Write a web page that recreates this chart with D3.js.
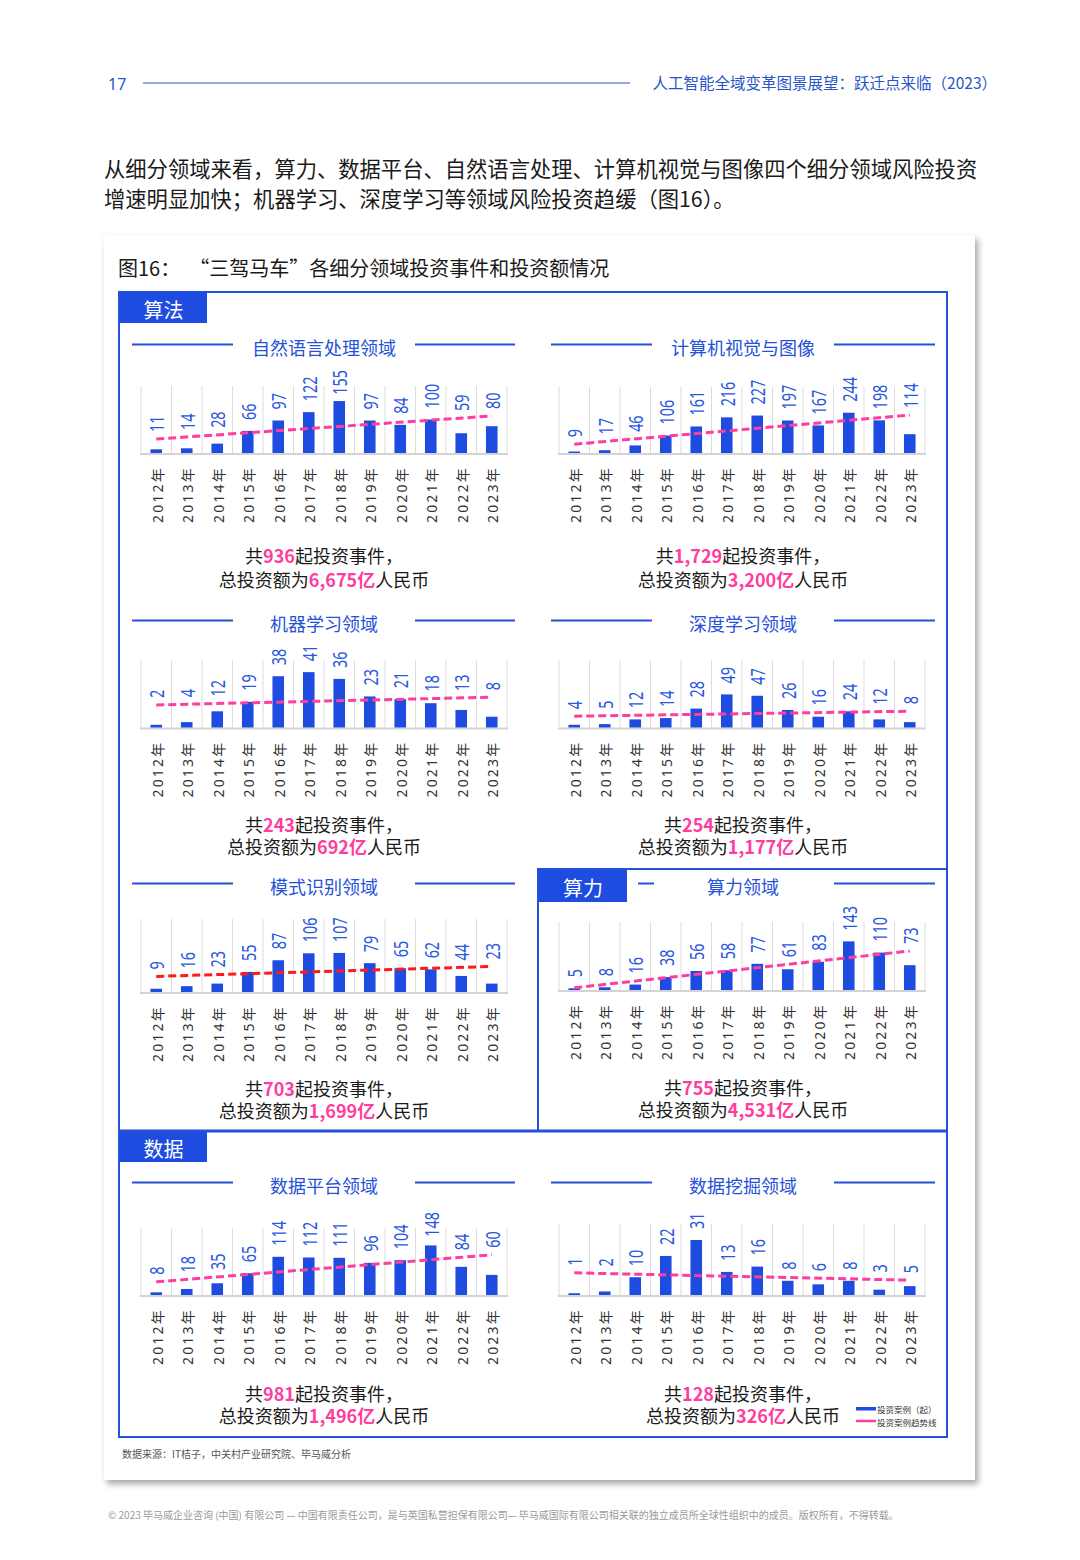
<!DOCTYPE html>
<html><head><meta charset="utf-8">
<script src="https://cdn.jsdelivr.net/npm/d3@7/dist/d3.min.js"></script>
<style>body{margin:0;background:#fff}</style>
</head><body>
<svg id="c" width="1080" height="1560"></svg>
<script>
// ---------- data ----------
const years = ["2012年","2013年","2014年","2015年","2016年","2017年","2018年","2019年","2020年","2021年","2022年","2023年"];
const nlpValues      = [11,14,28,66,97,122,155,97,84,100,59,80];
const cvValues       = [9,17,46,106,161,216,227,197,167,244,198,114];
const mlValues       = [2,4,12,19,38,41,36,23,21,18,13,8];
const dlValues       = [4,5,12,14,28,49,47,26,16,24,12,8];
const prValues       = [9,16,23,55,87,106,107,79,65,62,44,23];
const computeValues  = [5,8,16,38,56,58,77,61,83,143,110,73];
const platformValues = [8,18,35,65,114,112,111,96,104,148,84,60];
const miningValues   = [1,2,10,22,31,13,16,8,6,8,3,5];
const panelTitles = ["自然语言处理领域","计算机视觉与图像","机器学习领域","深度学习领域","模式识别领域","算力领域","数据平台领域","数据挖掘领域"];
const eventTotals = ["936","1,729","243","254","703","755","981","128"];
const amountTotals = ["6,675","3,200","692","1,177","1,699","4,531","1,496","326"];
const sectionLabels = ["算法","算力","数据"];
const legendLabels = ["投资案例（起）","投资案例趋势线"];

// ---------- layout ----------
const BLUE="#2451d8", LBL="#2a57de", BAR="#1f4ce0", PINK="#ff3d9e", RED="#ff1a1a", TXT="#1a1a1a";
const CJK="'Noto Sans CJK SC','Noto Sans',sans-serif";
const L = {x0:141,x1:507,cx:324,l1:[132,233],l2:[415,515]};
const R = {x0:559,x1:925,cx:743,l1:[551,652],l2:[834,935]};
const panels = [
  {v:nlpValues,     side:L, titleY:347, top:386, base:453, ymax:200, t1:555, t2:579, color:PINK},
  {v:cvValues,      side:R, titleY:347, top:387, base:453, ymax:400, t1:555, t2:579, color:PINK},
  {v:mlValues,      side:L, titleY:623, top:660, base:727.5, ymax:50, t1:824, t2:846, color:PINK},
  {v:dlValues,      side:R, titleY:623, top:660, base:727.5, ymax:100, t1:824, t2:846, color:PINK},
  {v:prValues,      side:L, titleY:886, top:919, base:992, ymax:200, t1:1088, t2:1110, color:RED},
  {v:computeValues, side:R, titleY:886, top:922, base:990, ymax:200, t1:1087, t2:1109, color:PINK, shortLeft:[638,654]},
  {v:platformValues,side:L, titleY:1185, top:1228, base:1295, ymax:200, t1:1393, t2:1415, color:PINK},
  {v:miningValues,  side:R, titleY:1185, top:1224, base:1295, ymax:40, t1:1393, t2:1415, color:PINK}
];

const svg = d3.select("#c");

// header
svg.append("text").attr("x",108).attr("y",84).attr("dominant-baseline","central")
  .attr("font-family","'Noto Sans',sans-serif").attr("font-size",16).attr("fill","#2a55c9").text("17");
svg.append("line").attr("x1",143).attr("x2",630).attr("y1",83).attr("y2",83).attr("stroke","#2a55c9").attr("stroke-width",1);
svg.append("text").attr("x",997).attr("y",82).attr("text-anchor","end").attr("dominant-baseline","central")
  .attr("font-family",CJK).attr("font-size",15.5).attr("fill","#2a55c9").text("人工智能全域变革图景展望：跃迁点来临（2023）");

// paragraph
const para = ["从细分领域来看，算力、数据平台、自然语言处理、计算机视觉与图像四个细分领域风险投资","增速明显加快；机器学习、深度学习等领域风险投资趋缓（图16）。"];
svg.selectAll(".para").data(para).join("text").attr("x",104).attr("y",(d,i)=>167+i*30)
  .attr("dominant-baseline","central").attr("font-family",CJK).attr("font-size",21.3).attr("fill",TXT).text(d=>d);

// card with shadow
const defs = svg.append("defs");
const f = defs.append("filter").attr("id","sh").attr("x","-5%").attr("y","-5%").attr("width","110%").attr("height","110%");
f.append("feDropShadow").attr("dx",3).attr("dy",4).attr("stdDeviation",3).attr("flood-color","#000").attr("flood-opacity",0.35);
svg.append("rect").attr("x",104).attr("y",235).attr("width",871).attr("height",1245).attr("fill","#fff").attr("filter","url(#sh)");

svg.append("text").attr("x",118).attr("y",267).attr("dominant-baseline","central")
  .attr("font-family",CJK).attr("font-size",20).attr("fill",TXT).attr("xml:space","preserve")
  .text("图16：  “三驾马车”各细分领域投资事件和投资额情况");

// boxes
const box = svg.append("g").attr("stroke",BLUE).attr("fill","none");
box.append("line").attr("x1",119).attr("x2",948).attr("y1",292).attr("y2",292).attr("stroke-width",2);
box.append("line").attr("x1",119).attr("x2",119).attr("y1",291).attr("y2",1438).attr("stroke-width",2);
box.append("line").attr("x1",947).attr("x2",947).attr("y1",291).attr("y2",1438).attr("stroke-width",2);
box.append("line").attr("x1",538).attr("x2",948).attr("y1",869).attr("y2",869).attr("stroke-width",2);
box.append("line").attr("x1",538).attr("x2",538).attr("y1",868).attr("y2",1131).attr("stroke-width",2);
box.append("line").attr("x1",119).attr("x2",948).attr("y1",1131).attr("y2",1131).attr("stroke-width",3);
box.append("line").attr("x1",118).attr("x2",948).attr("y1",1437).attr("y2",1437).attr("stroke-width",2);

const tabs = [{x:120,y:293,w:87,h:30},{x:539,y:870,w:88,h:32},{x:120,y:1132,w:87,h:30}];
tabs.forEach((t,i)=>{
  svg.append("rect").attr("x",t.x).attr("y",t.y).attr("width",t.w).attr("height",t.h).attr("fill",BAR);
  svg.append("text").attr("x",t.x+t.w/2).attr("y",t.y+t.h/2+1).attr("text-anchor","middle").attr("dominant-baseline","central")
    .attr("font-family",CJK).attr("font-size",20).attr("fill","#fff").text(sectionLabels[i]);
});

// panels
panels.forEach((p,pi)=>{
  const s = p.side;
  const g = svg.append("g");
  g.append("text").attr("x",s.cx).attr("y",p.titleY).attr("text-anchor","middle").attr("dominant-baseline","central")
    .attr("font-family",CJK).attr("font-size",18).attr("fill",BLUE).text(panelTitles[pi]);
  const l1 = p.shortLeft || s.l1;
  [l1,s.l2].forEach(l=>g.append("line").attr("x1",l[0]).attr("x2",l[1]).attr("y1",p.titleY-2.5).attr("y2",p.titleY-2.5)
    .attr("stroke",BLUE).attr("stroke-width",2));

  const x = d3.scaleBand().domain(years).range([s.x0,s.x1]).paddingInner(0.62).paddingOuter(0.31);
  const y = d3.scaleLinear().domain([0,p.ymax]).range([p.base,p.top]);
  const step = x.step();
  const bounds = d3.range(years.length+1).map(i=>s.x0 + i*step);

  g.selectAll(".grid").data(bounds).join("line").attr("x1",d=>d).attr("x2",d=>d)
    .attr("y1",p.top).attr("y2",p.base).attr("stroke","#dcdcdc").attr("stroke-width",1);
  g.append("line").attr("x1",s.x0-1).attr("x2",s.x1+1).attr("y1",p.base+1).attr("y2",p.base+1)
    .attr("stroke","#d3d3d3").attr("stroke-width",2);

  const data = years.map((yr,i)=>({yr, v:p.v[i], i}));
  g.selectAll(".bar").data(data).join("rect")
    .attr("x",d=>x(d.yr)).attr("width",x.bandwidth())
    .attr("y",d=>y(d.v)).attr("height",d=>p.base-y(d.v)).attr("fill",BAR);

  // linear trend (least squares of the series)
  const n = p.v.length, mx = (n-1)/2, my = d3.mean(p.v);
  const slope = d3.sum(p.v,(v,i)=>(i-mx)*(v-my)) / d3.sum(p.v,(v,i)=>(i-mx)*(i-mx));
  const inter = my - slope*mx;
  const trend = i => inter + slope*i;
  const cx = d => x(d.yr)+x.bandwidth()/2;
  g.append("line").attr("x1",cx(data[0])).attr("x2",cx(data[n-1]))
    .attr("y1",y(trend(0))).attr("y2",y(trend(n-1)))
    .attr("stroke",p.color).attr("stroke-width",3).attr("stroke-dasharray","8,4");

  // value labels (tall, narrow glyphs)
  const SX = 0.72;
  g.selectAll(".val").data(data).join("text")
    .attr("font-family","'Noto Sans',sans-serif").attr("font-size",20).attr("fill",LBL)
    .attr("dominant-baseline","central")
    .text(d=>d.v)
    .each(function(d){
      const len = this.getComputedTextLength()*SX;
      let b = Math.min(y(d.v)-11, y(trend(d.i))-7);
      if (b-len < p.top-16) b = p.top-16+len;
      d3.select(this).attr("transform",`translate(${cx(d)},${b}) rotate(-90) scale(${SX},1)`);
    });

  // x labels
  g.selectAll(".xl").data(data).join("text")
    .attr("transform",d=>`translate(${cx(d)+1},${p.base+13}) rotate(-90)`)
    .attr("text-anchor","end").attr("dominant-baseline","central")
    .attr("font-family","'Noto Sans','Noto Sans CJK SC',sans-serif").attr("font-size",14).attr("letter-spacing",2.2)
    .attr("fill","#333").text(d=>d.yr);

  // totals
  const t1 = g.append("text").attr("x",s.cx).attr("y",p.t1).attr("text-anchor","middle").attr("dominant-baseline","central")
    .attr("font-family",CJK).attr("font-size",18).attr("fill",TXT);
  t1.append("tspan").text("共");
  t1.append("tspan").attr("fill",PINK).attr("font-weight","bold").text(eventTotals[pi]);
  t1.append("tspan").text("起投资事件，");
  const t2 = g.append("text").attr("x",s.cx).attr("y",p.t2).attr("text-anchor","middle").attr("dominant-baseline","central")
    .attr("font-family",CJK).attr("font-size",18).attr("fill",TXT);
  t2.append("tspan").text("总投资额为");
  t2.append("tspan").attr("fill",PINK).attr("font-weight","bold").text(amountTotals[pi]+"亿");
  t2.append("tspan").text("人民币");
});

// legend
const lg = svg.append("g");
lg.append("rect").attr("x",856).attr("y",1407).attr("width",20).attr("height",3.5).attr("fill",BAR);
lg.append("line").attr("x1",856).attr("x2",876).attr("y1",1421).attr("y2",1421).attr("stroke",PINK).attr("stroke-width",2.5);
lg.selectAll(".lt").data(legendLabels).join("text").attr("x",877).attr("y",(d,i)=>1409+i*13)
  .attr("dominant-baseline","central").attr("font-family",CJK).attr("font-size",8.5).attr("fill","#333").text(d=>d);

// source & footer
svg.append("text").attr("x",122).attr("y",1453).attr("dominant-baseline","central")
  .attr("font-family",CJK).attr("font-size",10).attr("fill","#555").text("数据来源：IT桔子，中关村产业研究院、毕马威分析");
svg.append("text").attr("x",108).attr("y",1514).attr("dominant-baseline","central")
  .attr("font-family",CJK).attr("font-size",10).attr("fill","#9a9a9a")
  .text("© 2023 毕马威企业咨询 (中国) 有限公司 — 中国有限责任公司，是与英国私营担保有限公司— 毕马威国际有限公司相关联的独立成员所全球性组织中的成员。版权所有，不得转载。");
</script>
</body></html>
